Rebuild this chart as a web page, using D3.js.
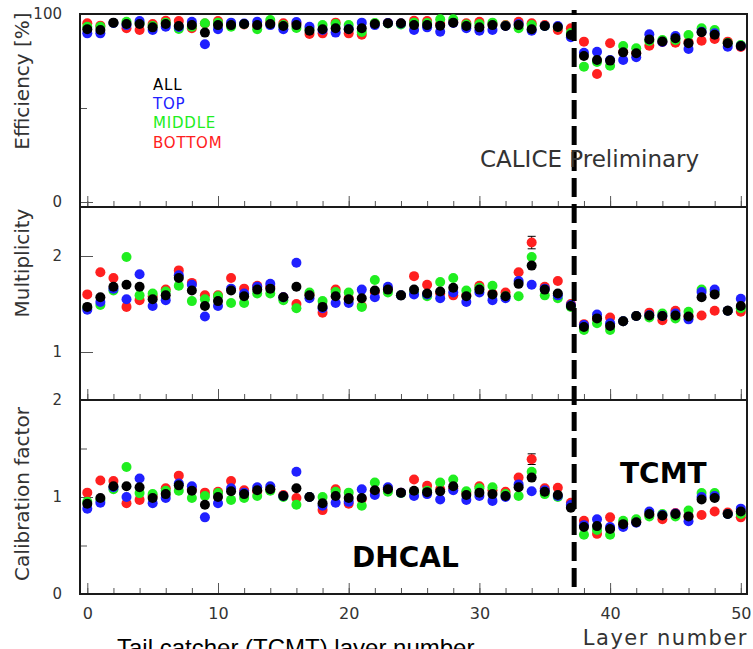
<!DOCTYPE html>
<html>
<head>
<meta charset="utf-8">
<script src="https://cdn.jsdelivr.net/npm/d3@7"></script>
<style>
  body { margin: 0; background: #fff; }
  svg { display: block; font-family: 'DejaVu Sans', sans-serif; }
  .tick text { fill: #333; }
</style>
</head>
<body>
<div id="chart"></div>
<script>
// layer numbers 0..50 (DHCAL 0-37, TCMT 38-50)
const layers = [0,1,2,3,4,5,6,7,8,9,10,11,12,13,14,15,16,17,18,19,20,21,22,23,24,25,
    26,27,28,29,30,31,32,33,34,35,36,37,38,39,40,41,42,43,44,45,46,47,48,49,50];

// Efficiency [%]
const effAll = [91.9,91.5,95.4,94.7,94.7,92.9,94.7,93.6,94.1,90.1,94.1,94.1,94.7,94.1,94.7,93.6,94.1,91.1,91.9,92.4,
    91.9,92.4,94.7,95.1,95.1,94.1,94.1,93.8,95.4,93.6,92.9,94.1,93.6,94.1,91.9,93.6,93.1,88.8,77.7,75.5,
    75.2,79.6,79.1,86.5,85.4,87.1,84.4,90.3,89.0,84.4,83.0];
const effTop = [89.7,89.7,95.2,94.1,96.3,91.5,93.2,93.1,95.9,83.9,91.9,95.4,94.9,95.9,94.1,91.9,95.7,93.2,91.5,90.1,
    92.0,95.4,94.1,95.2,94.9,91.5,92.9,90.6,95.2,92.4,91.1,91.5,93.6,94.7,91.1,93.6,93.6,87.6,79.4,79.9,
    75.5,75.5,77.0,89.2,85.1,88.3,81.4,90.6,89.7,82.6,83.0];
const effMiddle = [93.2,93.2,95.2,95.9,95.2,93.6,95.4,92.0,93.2,95.1,95.4,93.2,94.7,91.9,96.8,94.1,92.6,92.0,94.1,94.7,
    94.1,90.4,95.2,94.9,94.4,95.4,95.2,97.2,97.2,94.4,94.7,95.4,93.9,92.4,94.1,93.6,93.1,89.9,72.0,74.5,
    72.5,83.0,81.8,85.6,86.2,86.2,88.8,92.4,91.5,84.6,83.5];
const effBottom = [95.1,93.8,95.2,92.4,91.5,94.7,96.4,96.3,92.4,94.9,96.3,94.7,94.4,93.6,95.4,95.1,95.2,89.4,89.7,95.4,
    89.7,89.0,94.9,95.2,94.9,96.4,96.3,94.7,95.7,95.1,95.9,94.7,94.1,95.9,95.1,94.1,91.5,92.4,85.3,68.1,
    84.4,79.8,79.3,83.1,85.1,84.7,85.1,85.8,86.7,85.3,82.4];

// Multiplicity
const multAll = [1.47,1.57,1.68,1.70,1.68,1.55,1.59,1.77,1.64,1.48,1.53,1.64,1.58,1.65,1.66,1.57,1.68,1.59,1.47,1.58,
    1.55,1.56,1.64,1.65,1.59,1.65,1.61,1.63,1.67,1.58,1.65,1.60,1.58,1.71,1.90,1.65,1.61,1.48,1.26,1.35,
    1.27,1.32,1.375,1.38,1.375,1.38,1.37,1.57,1.60,1.43,1.48];
const multTop = [1.44,1.52,1.66,1.55,1.81,1.48,1.54,1.80,1.70,1.37,1.48,1.66,1.61,1.68,1.71,1.57,1.93,1.56,1.455,1.51,
    1.51,1.65,1.57,1.68,1.59,1.60,1.60,1.56,1.62,1.52,1.62,1.54,1.56,1.74,1.70,1.66,1.59,1.49,1.28,1.39,
    1.30,1.32,1.375,1.385,1.375,1.40,1.34,1.625,1.65,1.43,1.555];
const multMiddle = [1.46,1.49,1.64,1.99,1.59,1.61,1.63,1.69,1.53,1.55,1.58,1.51,1.51,1.61,1.61,1.54,1.455,1.62,1.53,1.625,
    1.62,1.47,1.75,1.62,1.59,1.615,1.58,1.73,1.77,1.64,1.67,1.69,1.58,1.58,1.99,1.59,1.56,1.47,1.23,1.30,
    1.23,1.32,1.375,1.36,1.40,1.35,1.42,1.65,1.63,1.43,1.455];
const multBottom = [1.60,1.83,1.77,1.47,1.54,1.58,1.65,1.85,1.72,1.59,1.59,1.77,1.66,1.69,1.68,1.57,1.50,1.60,1.41,1.65,
    1.56,1.48,1.625,1.66,1.59,1.79,1.70,1.61,1.59,1.59,1.69,1.61,1.62,1.83,2.14,1.68,1.74,1.50,1.29,1.35,
    1.36,1.32,1.375,1.41,1.33,1.43,1.375,1.38,1.43,1.43,1.42];

// Calibration factor
const calAll = [0.93,0.99,1.11,1.11,1.10,0.99,1.03,1.12,1.065,0.92,1.00,1.06,1.03,1.07,1.08,1.01,1.09,1.00,0.935,1.01,
    0.99,0.99,1.07,1.08,1.045,1.065,1.05,1.06,1.11,1.02,1.045,1.03,1.01,1.10,1.20,1.055,1.02,0.89,0.69,0.70,
    0.67,0.72,0.74,0.825,0.81,0.825,0.80,0.975,0.99,0.825,0.85];
const calTop = [0.88,0.94,1.10,1.00,1.19,0.935,0.99,1.14,1.11,0.79,0.935,1.09,1.045,1.10,1.11,1.01,1.26,1.00,0.91,0.94,
    0.95,1.08,1.02,1.10,1.045,1.01,1.03,0.975,1.07,0.97,1.01,0.96,1.00,1.13,1.06,1.07,1.01,0.92,0.71,0.77,
    0.69,0.69,0.735,0.85,0.815,0.83,0.75,1.00,1.01,0.825,0.88];
const calMiddle = [0.95,0.97,1.08,1.31,1.04,1.03,1.065,1.065,0.99,1.01,1.04,0.97,0.99,1.01,1.065,1.00,0.92,1.00,1.00,1.055,
    1.045,0.91,1.15,1.055,1.04,1.05,1.065,1.15,1.18,1.06,1.09,1.10,1.03,1.01,1.26,1.03,1.00,0.91,0.61,0.66,
    0.61,0.755,0.77,0.80,0.825,0.80,0.86,1.04,1.04,0.825,0.825];
const calBottom = [1.045,1.17,1.165,0.935,0.97,1.01,1.09,1.22,1.08,1.045,1.055,1.165,1.07,1.06,1.08,1.02,0.99,1.00,0.865,1.08,
    0.93,0.98,1.06,1.09,1.045,1.18,1.115,1.08,1.09,1.04,1.11,1.07,1.055,1.20,1.39,1.09,1.095,0.94,0.755,0.62,
    0.79,0.73,0.75,0.815,0.77,0.835,0.80,0.815,0.85,0.84,0.79];

// the only visible error bars (BOTTOM, layer 34)
const errLayer = 34;
const multErrBottom = 0.065;
const calErrBottom = 0.055;

const seriesNames = ['ALL', 'TOP', 'MIDDLE', 'BOTTOM'];
const seriesColors = ['#000000', '#2020ff', '#20ee20', '#ff2020'];

// boundary between DHCAL and TCMT
const boundaryLayer = 37.25;

const width = 753;
const height = 649;
const frameLeft = 80;
const frameRight = 747;

const svg = d3.select('#chart')
    .append('svg')
        .attr('width', width)
        .attr('height', height);

const x = d3.scaleLinear()
    .domain([0, 50])
    .range([87.3, 740.8]);

const panels = [
    {
        top: 14, bottom: 207,
        y: d3.scaleLinear().domain([0, 100]).range([202, 14]),
        majors: [0, 100], minors: [50],
        title: 'Efficiency [%]', titleY: 81,
        data: [effAll, effTop, effMiddle, effBottom]
    },
    {
        top: 207, bottom: 400,
        y: d3.scaleLinear().domain([1, 2]).range([352, 256]),
        majors: [1, 2], minors: [],
        title: 'Multiplicity', titleY: 263,
        data: [multAll, multTop, multMiddle, multBottom],
        err: multErrBottom
    },
    {
        top: 400, bottom: 594,
        y: d3.scaleLinear().domain([0, 2]).range([594, 400]),
        majors: [0, 1, 2], minors: [0.5, 1.5],
        title: 'Calibration factor', titleY: 494,
        data: [calAll, calTop, calMiddle, calBottom],
        err: calErrBottom
    }
];

panels.forEach((p, pi) => {
    const g = svg.append('g').attr('class', 'panel');

    // x ticks (every 2 layers, longer ones every 10) pointing into the frame
    g.append('g')
        .attr('transform', `translate(0, ${p.bottom})`)
        .call(d3.axisBottom(x).tickValues(d3.range(0, 51, 2)).tickSize(-6).tickFormat(''))
        .call(a => a.select('.domain').remove());
    const xMajor = g.append('g')
        .attr('transform', `translate(0, ${p.bottom})`)
        .call(d3.axisBottom(x).tickValues([0, 10, 20, 30, 40, 50]).tickSize(-11).tickPadding(14)
            .tickFormat(pi === 2 ? d3.format('d') : ''))
        .call(a => a.select('.domain').remove());
    xMajor.selectAll('.tick text')
        .style('font-size', '16px')
        .style('font-family', 'DejaVu Sans');

    // y ticks
    g.append('g')
        .attr('transform', `translate(${frameLeft}, 0)`)
        .call(d3.axisLeft(p.y).tickValues(p.minors).tickSize(-7).tickFormat(''))
        .call(a => a.select('.domain').remove());
    g.append('g')
        .attr('transform', `translate(${frameLeft}, 0)`)
        .call(d3.axisLeft(p.y).tickValues(p.majors).tickSize(-13).tickPadding(18).tickFormat(d3.format('d')))
        .call(a => a.select('.domain').remove())
        .selectAll('.tick text')
            .style('font-size', '15px')
            .style('font-family', 'DejaVu Sans');

    g.selectAll('.tick line').attr('stroke', '#555');

    // frame
    g.append('rect')
        .attr('x', frameLeft)
        .attr('y', p.top)
        .attr('width', frameRight - frameLeft)
        .attr('height', p.bottom - p.top)
        .attr('fill', 'none')
        .attr('stroke', '#1a1a1a')
        .attr('stroke-width', 2);

    // y title
    g.append('text')
        .attr('transform', `translate(29, ${p.titleY}) rotate(-90)`)
        .attr('text-anchor', 'middle')
        .attr('fill', '#333')
        .style('font-size', '20px')
        .text(p.title);

    // error bar on BOTTOM at layer 34
    if (p.err) {
        const v = p.data[3][errLayer];
        const eg = g.append('g').attr('stroke', '#000').attr('stroke-width', 1);
        eg.append('line')
            .attr('x1', x(errLayer)).attr('x2', x(errLayer))
            .attr('y1', p.y(v - p.err)).attr('y2', p.y(v + p.err));
        [v - p.err, v + p.err].forEach(e => {
            eg.append('line')
                .attr('x1', x(errLayer) - 4).attr('x2', x(errLayer) + 4)
                .attr('y1', p.y(e)).attr('y2', p.y(e));
        });
    }

    // markers: BOTTOM, MIDDLE, TOP first, ALL on top
    [3, 2, 1, 0].forEach(si => {
        g.append('g')
            .attr('fill', seriesColors[si])
            .selectAll('circle')
            .data(p.data[si])
            .join('circle')
                .attr('cx', (d, i) => x(layers[i]))
                .attr('cy', d => p.y(d))
                .attr('r', 5);
    });
});

// dashed DHCAL / TCMT boundary
svg.append('line')
    .attr('x1', x(boundaryLayer)).attr('x2', x(boundaryLayer))
    .attr('y1', 10).attr('y2', 594)
    .attr('stroke', '#000')
    .attr('stroke-width', 5)
    .attr('stroke-dasharray', '19 7')
    .attr('stroke-dashoffset', 14);

// legend
svg.append('g')
    .selectAll('text')
    .data(seriesNames)
    .join('text')
        .attr('x', 153)
        .attr('y', (d, i) => 90 + i * 19.2)
        .attr('fill', (d, i) => seriesColors[i])
        .style('font-size', '15px')
        .style('letter-spacing', '0.8px')
        .text(d => d);

svg.append('text')
    .attr('x', 480)
    .attr('y', 167)
    .attr('fill', '#333')
    .style('font-size', '23px')
    .text('CALICE Preliminary');

svg.append('text')
    .attr('x', 748)
    .attr('y', 645)
    .attr('text-anchor', 'end')
    .attr('fill', '#333')
    .style('font-size', '21px')
    .style('letter-spacing', '1.5px')
    .text('Layer number');

svg.append('text')
    .attr('x', 352)
    .attr('y', 567)
    .style('font-size', '28px')
    .style('font-weight', 'bold')
    .text('DHCAL');

svg.append('text')
    .attr('x', 620)
    .attr('y', 483)
    .style('font-size', '28px')
    .style('font-weight', 'bold')
    .text('TCMT');

// caption that runs off the bottom edge, as in the reference
svg.append('text')
    .attr('x', 117)
    .attr('y', 656)
    .style('font-family', "'Liberation Sans', sans-serif")
    .style('font-size', '24px')
    .text('Tail catcher (TCMT) layer number');
</script>
</body>
</html>
